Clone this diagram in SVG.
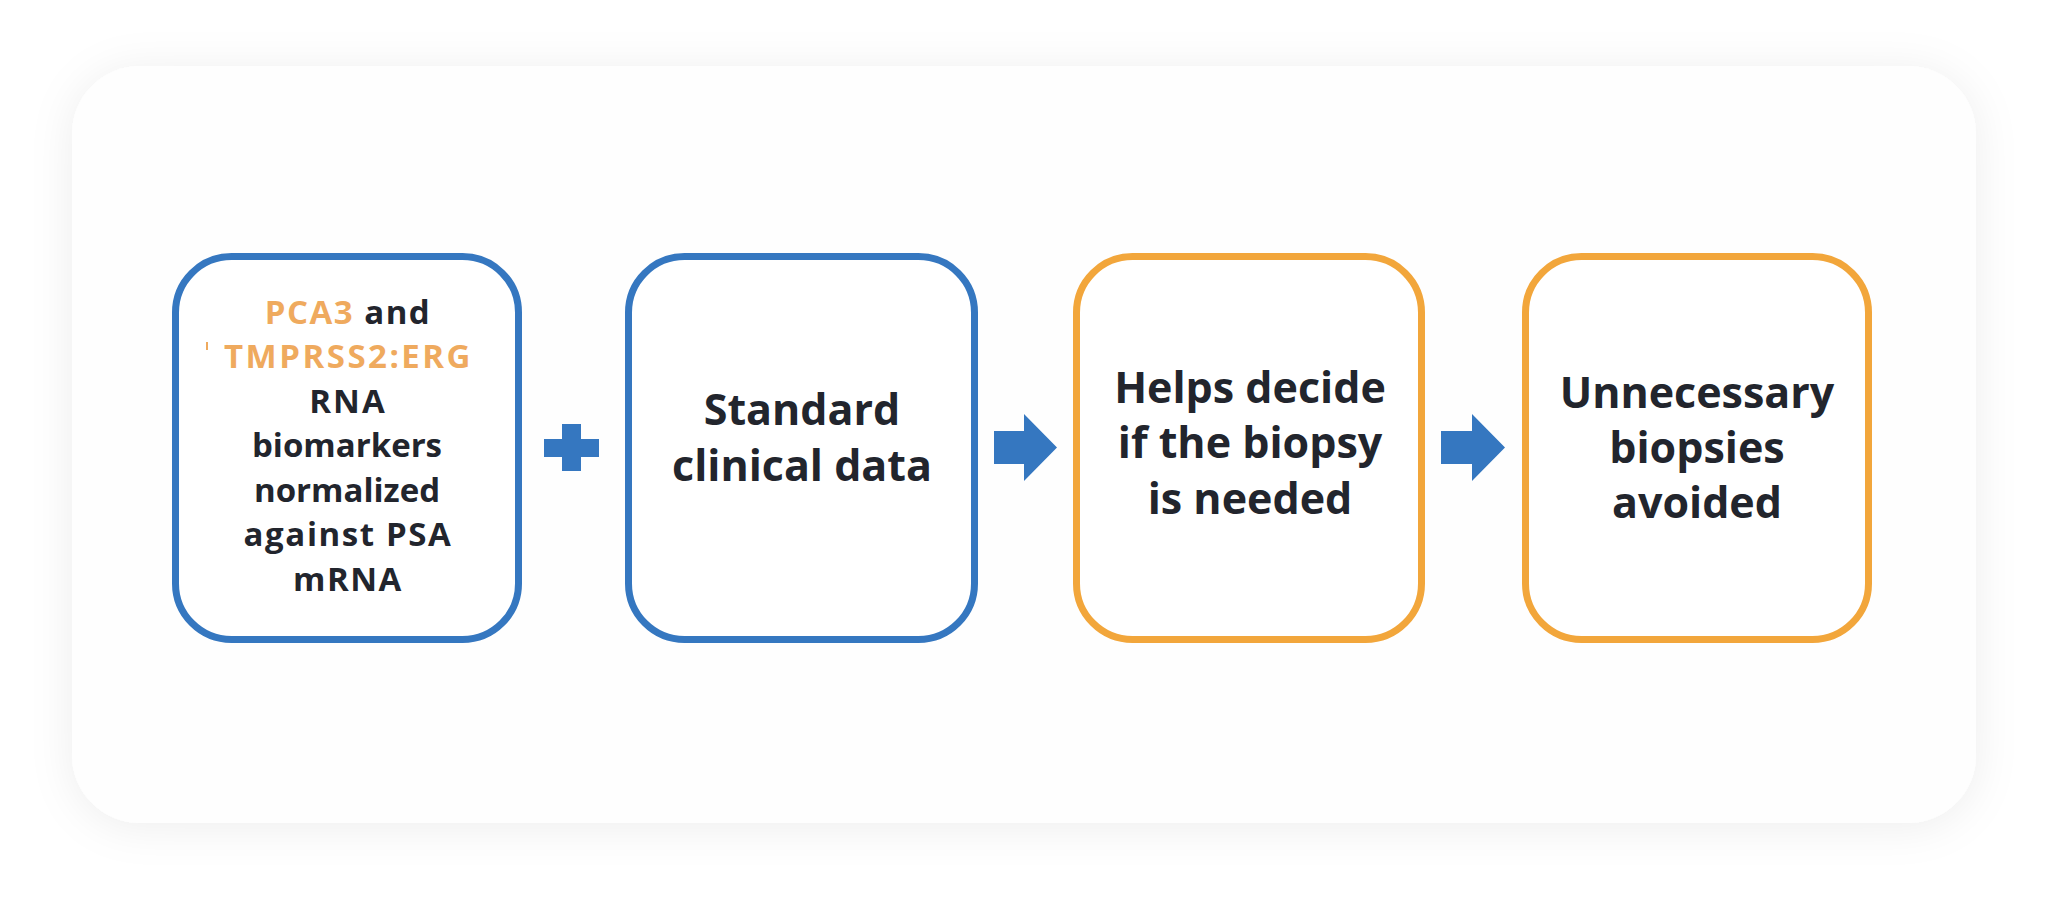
<svg xmlns="http://www.w3.org/2000/svg" width="2048" height="901" viewBox="0 0 2048 901">
  <defs>
    <filter id="shadow" x="-10%" y="-20%" width="120%" height="140%">
      <feDropShadow dx="0" dy="4" stdDeviation="22" flood-color="#000000" flood-opacity="0.07"/>
    </filter>
  </defs>
  <style>
    .box { fill: #ffffff; stroke-width: 7; }
    .blue { stroke: #3577c0; }
    .orange { stroke: #f2a63b; }
    .t { font-family: "Open Sans", "Liberation Sans", sans-serif; font-weight: 700; fill: #22252d; text-anchor: middle; }
    .s1 { font-size: 33px; }
    .s2 { font-size: 43px; }
    .hl { fill: #efaa5e; }
    .conn { fill: #3577c0; }
  </style>
  <rect width="2048" height="901" fill="#ffffff"/>
  <g id="card">
    <rect x="72" y="66" width="1904" height="757" rx="68" fill="#fefefe" filter="url(#shadow)"/>
  </g>
  <g id="node-biomarkers">
    <rect class="box blue" x="175.5" y="256.5" width="343" height="383" rx="56"/>
    <rect x="206" y="342" width="2" height="8" fill="#efaa5e"/>
    <text class="t s1" x="348" y="324" letter-spacing="1.5"><tspan class="hl">PCA3</tspan> and</text>
    <text class="t s1 hl" x="348.5" y="368" letter-spacing="2.5">TMPRSS2:ERG</text>
    <text class="t s1" x="348" y="413" letter-spacing="2">RNA</text>
    <text class="t s1" x="347" y="457">biomarkers</text>
    <text class="t s1" x="347" y="502">normalized</text>
    <text class="t s1" x="348" y="546" letter-spacing="1.6">against PSA</text>
    <text class="t s1" x="348" y="591" letter-spacing="1.5">mRNA</text>
  </g>
  <g id="node-clinical">
    <rect class="box blue" x="628.5" y="256.5" width="346" height="383" rx="56"/>
    <text class="t s2" x="802" y="425">Standard</text>
    <text class="t s2" x="802" y="481">clinical data</text>
  </g>
  <g id="node-decide">
    <rect class="box orange" x="1076.5" y="256.5" width="345" height="383" rx="56"/>
    <text class="t s2" x="1250" y="403">Helps decide</text>
    <text class="t s2" x="1250" y="458">if the biopsy</text>
    <text class="t s2" x="1250" y="514">is needed</text>
  </g>
  <g id="node-avoided">
    <rect class="box orange" x="1525.5" y="256.5" width="343" height="383" rx="56"/>
    <text class="t s2" x="1697" y="408">Unnecessary</text>
    <text class="t s2" x="1697" y="463">biopsies</text>
    <text class="t s2" x="1697" y="518">avoided</text>
  </g>
  <g id="connectors">
    <path class="conn" d="M562 424 H581 V439 H599 V457 H581 V471 H562 V457 H544 V439 H562 Z"/>
    <polygon class="conn" points="994,431 1024,431 1024,414 1057,447.5 1024,481 1024,464 994,464"/>
    <polygon class="conn" points="1441,431 1472,431 1472,414 1505,447.5 1472,481 1472,464 1441,464"/>
  </g>
</svg>
